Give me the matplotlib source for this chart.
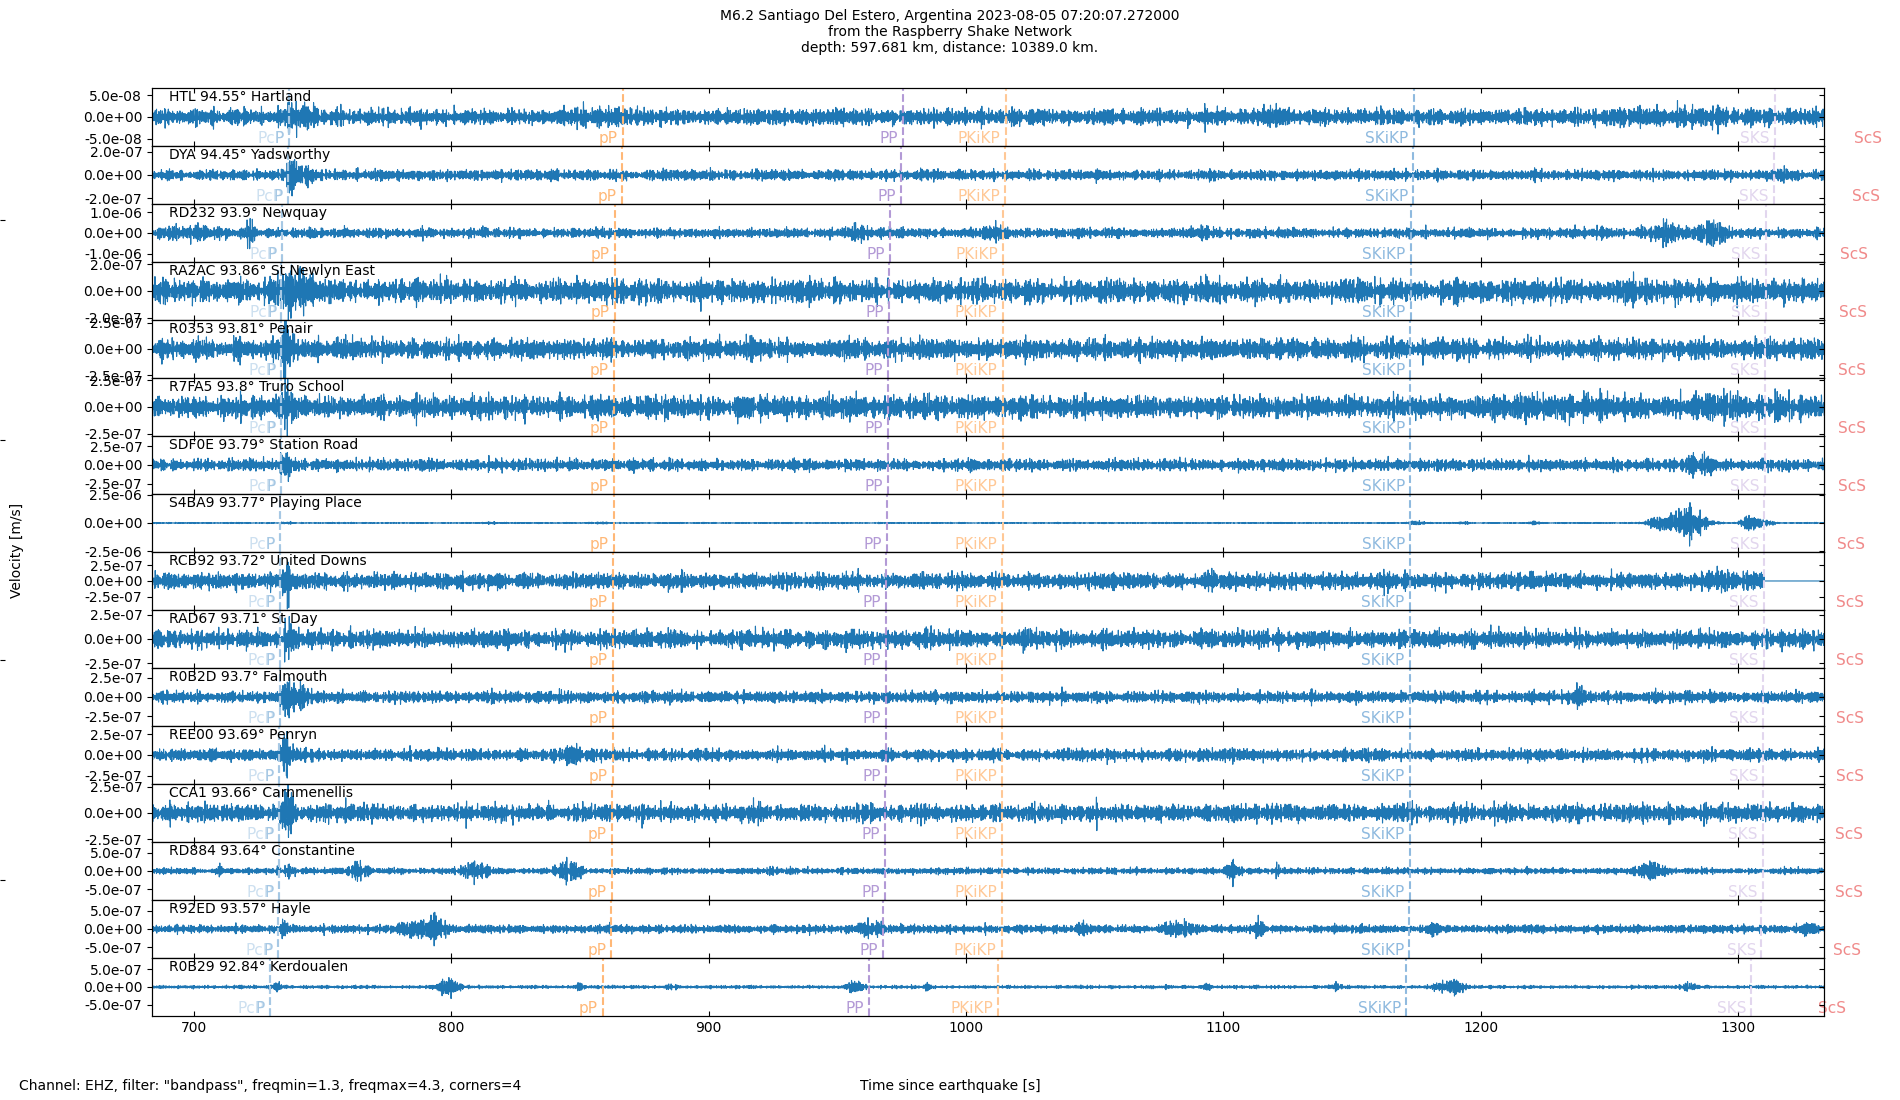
import numpy as np
import matplotlib
matplotlib.use('Agg')
import matplotlib.pyplot as plt

# stations, top to bottom
codes = ['HTL', 'DYA', 'RD232', 'RA2AC', 'R0353', 'R7FA5', 'SDF0E', 'S4BA9',
         'RCB92', 'RAD67', 'R0B2D', 'REE00', 'CCA1', 'RD884', 'R92ED', 'R0B29']
dists = [94.55, 94.45, 93.9, 93.86, 93.81, 93.8, 93.79, 93.77,
         93.72, 93.71, 93.7, 93.69, 93.66, 93.64, 93.57, 92.84]
places = ['Hartland', 'Yadsworthy', 'Newquay', 'St Newlyn East', 'Penair',
          'Truro School', 'Station Road', 'Playing Place', 'United Downs',
          'St Day', 'Falmouth', 'Penryn', 'Carnmenellis', 'Constantine',
          'Hayle', 'Kerdoualen']

# y limits (+/-) and tick value per panel [m/s]
ylims = [6.7e-8, 2.5e-7, 1.41e-6, 2.18e-7, 2.77e-7, 2.73e-7, 3.84e-7, 2.55e-6,
         4.6e-7, 3.0e-7, 3.75e-7, 3.5e-7, 2.77e-7, 8.0e-7, 8.0e-7, 8.2e-7]
ytks = [5e-8, 2e-7, 1e-6, 2e-7, 2.5e-7, 2.5e-7, 2.5e-7, 2.5e-6,
        2.5e-7, 2.5e-7, 2.5e-7, 2.5e-7, 2.5e-7, 5e-7, 5e-7, 5e-7]

# background noise level (rms, m/s)
noise = [8.0e-9, 1.9e-8, 1.0e-7, 3.7e-8, 4.2e-8, 4.4e-8, 3.3e-8, 2.0e-8,
         5.5e-8, 3.9e-8, 3.2e-8, 3.0e-8, 3.6e-8, 3.6e-8, 4.8e-8, 1.8e-8]

# wave packets: (time [s], rms amplitude [m/s], half width [s])
bursts = [
    [(738, 1.8e-8, 1.5), (744, 8e-9, 2.5), (858, 4e-9, 8), (1118, 4e-9, 4), (1275, 3e-9, 20)],
    [(738, 6.5e-8, 1.5), (744, 2.5e-8, 2.5), (1318, 1.5e-8, 2)],
    [(700, 6e-8, 12), (722, 3.1e-7, 0.8), (958, 1.3e-7, 4), (1010, 1.3e-7, 3), (1092, 8e-8, 3),
     (1247, 8e-8, 2), (1272, 1.6e-7, 4), (1288, 1.7e-7, 5)],
    [(736, 6.5e-8, 2), (742, 4e-8, 3)],
    [(736, 8.9e-8, 1.8)],
    [(736, 7.6e-8, 1.8), (1230, 1.4e-8, 20), (1300, 1.4e-8, 15)],
    [(736, 9.6e-8, 1.5), (1284, 6.5e-8, 3)],
    [(736, 3.8e-8, 1.5), (815, 3e-8, 2), (858, 3e-8, 2), (1175, 1e-7, 2), (1194, 3.8e-8, 1.5),
     (1221, 5e-8, 1.5), (1268, 2.4e-7, 2.5), (1280, 6.5e-7, 5), (1305, 3.2e-7, 2.5), (1312, 1.1e-7, 2)],
    [(736, 9e-8, 1.2), (1300, 1.8e-8, 10)],
    [(737, 8.4e-8, 1.5), (1205, 3e-8, 1.5)],
    [(736, 1.1e-7, 1.8), (741, 5.6e-8, 2), (1238, 3.8e-8, 1.5)],
    [(736, 9.8e-8, 1.5), (847, 4.5e-8, 2.5), (1104, 3.5e-8, 1.5)],
    [(736, 9.7e-8, 1.5)],
    [(710, 5.6e-8, 0.8), (736, 5e-8, 2), (764, 9.6e-8, 2.5), (809, 8.8e-8, 3.5), (846, 9.6e-8, 3.5),
     (925, 4.8e-8, 1.5), (1104, 8.8e-8, 2), (1121, 9.6e-8, 0.6), (1266, 8e-8, 4.5)],
    [(735, 7.2e-8, 1.2), (784, 9.6e-8, 3.5), (793, 1e-7, 3.5), (963, 7.2e-8, 3.5), (1046, 6.4e-8, 1.2),
     (1082, 8e-8, 3.5), (1114, 1.4e-7, 1.2), (1182, 6.4e-8, 1.2), (1326, 5.6e-8, 1.5)],
    [(718, 4e-8, 0.5), (732, 5.7e-8, 1.5), (799, 1.3e-7, 2.5), (850, 5.7e-8, 0.8), (886, 3.3e-8, 1.5),
     (957, 6.6e-8, 2.5), (985, 5e-8, 0.8), (1078, 3.3e-8, 0.6), (1094, 3.3e-8, 1.2), (1144, 6.6e-8, 1.2),
     (1188, 1e-7, 3.5), (1281, 6.6e-8, 2)],
]
# last sample of each record
rec_end = [1340, 1340, 1340, 1340, 1340, 1340, 1340, 1340,
           1310.2, 1340, 1340, 1340, 1340, 1340, 1340, 1340]

# arrival times [s] per station
phases = {
    'PcP':   [737.0, 736.5, 734.1, 733.9, 733.7, 733.6, 733.6, 733.5, 733.3, 733.2, 733.2, 733.1, 733.0, 732.9, 732.6, 729.3],
    'P':     [737.0, 736.5, 734.1, 733.9, 733.7, 733.6, 733.6, 733.5, 733.3, 733.2, 733.2, 733.1, 733.0, 732.9, 732.6, 729.3],
    'pP':    [866.5, 866.1, 863.6, 863.4, 863.2, 863.2, 863.1, 863.0, 862.8, 862.8, 862.7, 862.7, 862.5, 862.5, 862.2, 858.9],
    'PP':    [975.5, 974.7, 970.4, 970.1, 969.7, 969.6, 969.6, 969.4, 969.0, 968.9, 968.9, 968.8, 968.6, 968.4, 967.9, 962.2],
    'PKiKP': [1015.5, 1015.3, 1014.4, 1014.3, 1014.2, 1014.2, 1014.2, 1014.2, 1014.1, 1014.1, 1014.1, 1014.0, 1014.0, 1014.0, 1013.8, 1012.6],
    'SKiKP': [1174.0, 1173.8, 1172.9, 1172.8, 1172.7, 1172.7, 1172.7, 1172.6, 1172.5, 1172.5, 1172.5, 1172.5, 1172.4, 1172.4, 1172.3, 1171.0],
    'SKS':   [1314.5, 1314.0, 1311.0, 1310.8, 1310.5, 1310.5, 1310.4, 1310.3, 1310.0, 1310.0, 1309.9, 1309.9, 1309.7, 1309.6, 1309.2, 1305.3],
    'ScS':   [1358.0, 1357.2, 1352.7, 1352.4, 1352.0, 1351.9, 1351.8, 1351.6, 1351.2, 1351.1, 1351.0, 1351.0, 1350.7, 1350.5, 1350.0, 1344.0],
}
phase_colors = {'PcP': '#cde0f0', 'P': '#a6c8e4', 'pP': '#ffb877', 'PP': '#b39ad6',
                'PKiKP': '#ffc896', 'SKiKP': '#8fbadf', 'SKS': '#e2d6ee', 'ScS': '#f08a8a'}

xmin, xmax = 683.6, 1333.5
t = np.arange(xmin - 1, xmax + 1, 0.05)
kk = np.arange(1, 61)

fig, axes = plt.subplots(len(codes), 1, figsize=(19, 11), dpi=100, sharex=True)
fig.subplots_adjust(left=0.08, right=0.96, top=0.92, bottom=0.0764, hspace=0)

# frameless helper axes (only its small ticks show at the left edge)
bg = fig.add_axes([0.0025, 0, 0.5, 1], frameon=False, zorder=-1)
bg.set_xticks([])
bg.set_yticks([0.2, 0.4, 0.6, 0.8])
bg.set_yticklabels([])
bg.set_ylim(0, 1)

for i, ax in enumerate(axes):
    env = np.full_like(t, noise[i])
    for (t0, a, w) in bursts[i]:
        env += a * np.exp(-0.5 * ((t - t0) / w) ** 2)
    # band-limited (1.3-4.3 Hz) carrier, deterministic, irregular spectrum
    fq = 1.3 + 3.0 * ((kk ** 2 * 0.7548776662 + i * 0.3119) % 1)
    ph = 2 * np.pi * ((kk ** 3 * 0.5698402910 * (i + 1.3)) % 1)
    carrier = np.zeros_like(t)
    for f, p in zip(fq, ph):
        carrier += np.sin(2 * np.pi * f * t + p)
    carrier /= np.sqrt(len(kk) / 2)
    tr = env * carrier
    tr[t > rec_end[i]] = 0.0
    ax.plot(t, tr, color='#1f77b4', lw=0.8)

    ax.set_xlim(xmin, xmax)
    ax.set_ylim(-ylims[i], ylims[i])
    ax.set_yticks([-ytks[i], 0, ytks[i]])
    ax.set_yticklabels(['%.1e' % v for v in [-ytks[i], 0, ytks[i]]])
    ax.tick_params(axis='x', direction='in', top=True, bottom=True)
    ax2 = ax.twinx()
    ax2.set_ylim(-ylims[i], ylims[i])
    ax2.set_yticks([-ytks[i], 0, ytks[i]])
    ax2.tick_params(axis='y', direction='in', labelright=False)

    ax.text(0.01, 0.96, '%s %s\u00b0 %s' % (codes[i], dists[i], places[i]),
            transform=ax.transAxes, va='top', ha='left', fontsize=10)

    for name in ['PcP', 'P', 'pP', 'PP', 'PKiKP', 'SKiKP', 'SKS', 'ScS']:
        tp = phases[name][i]
        ax.axvline(tp, color=phase_colors[name], ls='--', lw=1.5)
        ax.text(tp - 2, 0.0, name, color=phase_colors[name], fontsize=11,
                ha='right', va='bottom', transform=ax.get_xaxis_transform())

axes[-1].set_xticks(np.arange(700, 1301, 100))

fig.suptitle('M6.2 Santiago Del Estero, Argentina 2023-08-05 07:20:07.272000\n'
             'from the Raspberry Shake Network\n'
             'depth: 597.681 km, distance: 10389.0 km.', fontsize=10, y=0.992)
fig.text(0.009, 0.5, 'Velocity [m/s]', rotation=90, va='center', ha='center', fontsize=10)
fig.text(0.5, 0.0127, 'Time since earthquake [s]', va='center', ha='center', fontsize=10)
fig.text(0.0102, 0.0127, 'Channel: EHZ, filter: "bandpass", freqmin=1.3, freqmax=4.3, corners=4',
         va='center', ha='left', fontsize=10)

fig.savefig('out.png', dpi=100)
